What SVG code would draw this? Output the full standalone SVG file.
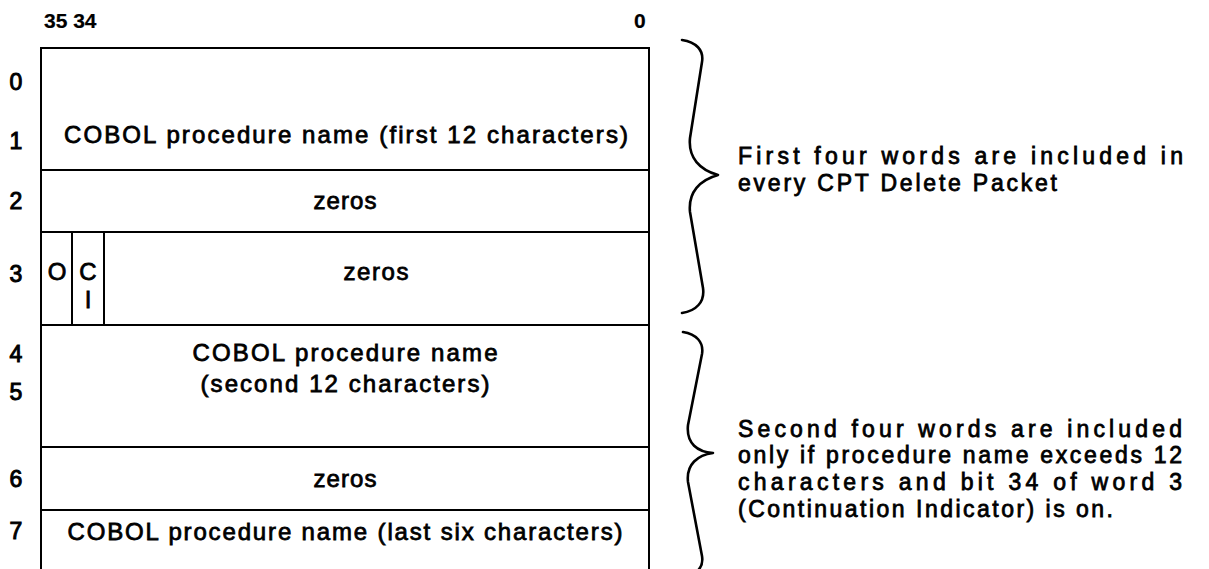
<svg xmlns="http://www.w3.org/2000/svg" width="1209" height="569" viewBox="0 0 1209 569">
<style>
  text { font-family: "Liberation Sans", Arial, sans-serif; fill: #000; stroke: #000; stroke-width: 0.8; }
  .bit { font-size: 21px; font-weight: bold; stroke-width: 0.2; }
  .row { font-size: 23px; text-anchor: middle; stroke-width: 1; }
  .cell { font-size: 24px; text-anchor: middle; }
  .note { font-size: 23px; }
  .ln { stroke: #000; stroke-width: 2; fill: none; }
  .brace { stroke: #000; stroke-width: 2.6; fill: none; stroke-linecap: round; stroke-linejoin: round; }
</style>
<rect width="1209" height="569" fill="#fff"/>

<g id="bit-labels">
  <text class="bit" x="44" y="28">35 34</text>
  <text class="bit" x="634" y="28">0</text>
</g>

<g id="row-labels">
  <text class="row" x="16" y="90">0</text>
  <text class="row" x="16" y="149">1</text>
  <text class="row" x="16" y="209">2</text>
  <text class="row" x="16" y="282">3</text>
  <text class="row" x="16" y="362">4</text>
  <text class="row" x="16" y="400">5</text>
  <text class="row" x="16" y="487">6</text>
  <text class="row" x="16" y="539">7</text>
</g>

<g id="words-0-1">
  <rect class="ln" x="41" y="48" width="608" height="122"/>
  <text class="cell" x="346" y="143" textLength="564" lengthAdjust="spacing">COBOL procedure name (first 12 characters)</text>
</g>
<g id="word-2">
  <rect class="ln" x="41" y="170" width="608" height="62"/>
  <text class="cell" x="345" y="209" textLength="63" lengthAdjust="spacing">zeros</text>
</g>
<g id="word-3">
  <rect class="ln" x="41" y="232" width="608" height="93"/>
  <line class="ln" x1="72" y1="232" x2="72" y2="325"/>
  <line class="ln" x1="104" y1="232" x2="104" y2="325"/>
  <text class="cell" x="57" y="280">O</text>
  <text class="cell" x="88" y="280">C</text>
  <text class="cell" x="88" y="308">I</text>
  <text class="cell" x="376" y="280" textLength="65" lengthAdjust="spacing">zeros</text>
</g>
<g id="words-4-5">
  <rect class="ln" x="41" y="325" width="608" height="122"/>
  <text class="cell" x="345" y="361" textLength="305" lengthAdjust="spacing">COBOL procedure name</text>
  <text class="cell" x="345" y="392" textLength="289" lengthAdjust="spacing">(second 12 characters)</text>
</g>
<g id="word-6">
  <rect class="ln" x="41" y="447" width="608" height="63"/>
  <text class="cell" x="345" y="487" textLength="63" lengthAdjust="spacing">zeros</text>
</g>
<g id="word-7">
  <path class="ln" d="M41,575 V510 H649 V575"/>
  <text class="cell" x="345" y="540" textLength="555" lengthAdjust="spacing">COBOL procedure name (last six characters)</text>
</g>

<g id="connectors">
  <path class="brace" d="M682,40 C696,42 704,50 702,62 L690,138 C688,158 700,170 718,175 C700,180 688,192 690,212 L703,288 C705,302 696,311 682,313"/>
  <path class="brace" d="M683,332 C696,334 704,342 702,354 L688,425 C686,444 698,452 713,453 C698,455 686,464 688,482 L702,556 C704,568 696,575 683,577"/>
</g>

<g id="note-1">
  <text class="note" x="738" y="164" textLength="445" lengthAdjust="spacing">First four words are included in</text>
  <text class="note" x="738" y="191" textLength="319" lengthAdjust="spacing">every CPT Delete Packet</text>
</g>
<g id="note-2">
  <text class="note" x="738" y="437" textLength="444" lengthAdjust="spacing">Second four words are included</text>
  <text class="note" x="738" y="463" textLength="444" lengthAdjust="spacing">only if procedure name exceeds 12</text>
  <text class="note" x="738" y="490" textLength="444" lengthAdjust="spacing">characters and bit 34 of word 3</text>
  <text class="note" x="738" y="517" textLength="375" lengthAdjust="spacing">(Continuation Indicator) is on.</text>
</g>
</svg>
